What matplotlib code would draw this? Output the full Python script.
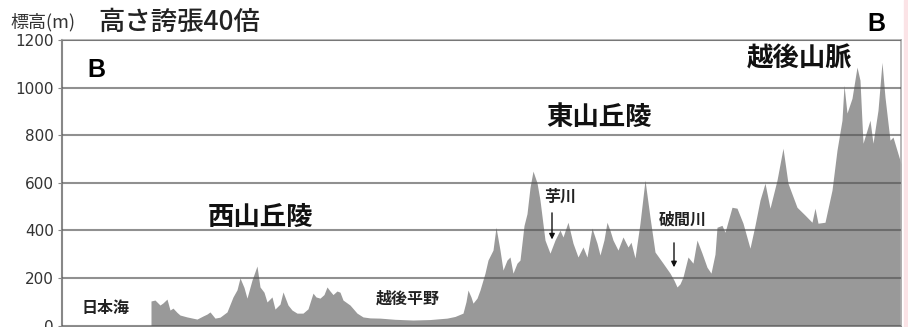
import matplotlib
matplotlib.use('Agg')
import matplotlib.pyplot as plt

# elevation profile B-B (distance km from left end, elevation m)
dist = [8.9, 8.9, 9.3, 9.8, 10.1, 10.5, 10.8, 11.1, 11.5, 11.8,
        12.5, 13.5, 14.1, 14.5, 14.8, 15.3, 15.8, 16.5, 17.1, 17.5,
        17.8, 18.2, 18.5, 19.0, 19.5, 19.8, 20.2, 20.5, 21.0, 21.3,
        21.8, 22.1, 22.6, 23.0, 23.5, 24.1, 24.6, 25.1, 25.4, 25.8,
        26.2, 26.5, 26.8, 27.1, 27.5, 27.8, 28.1, 28.8, 29.5, 30.1,
        30.8, 31.8, 33.3, 35.1, 36.8, 38.5, 39.3, 40.1, 40.4, 40.6,
        40.9, 41.1, 41.5, 41.8, 42.3, 42.6, 43.1, 43.4, 43.8, 44.1,
        44.5, 44.8, 45.1, 45.5, 45.8, 46.2, 46.5, 46.8, 47.1, 47.5,
        47.8, 48.3, 48.8, 49.3, 49.8, 50.1, 50.6, 51.1, 51.6, 52.1,
        52.5, 53.0, 53.5, 53.8, 54.2, 54.5, 54.8, 55.1, 55.6, 56.1,
        56.6, 56.9, 57.3, 57.8, 58.3, 58.8, 59.3, 60.1, 60.8, 61.2,
        61.5, 61.8, 62.1, 62.6, 63.1, 63.5, 64.0, 64.5, 64.9, 65.3,
        65.5, 66.0, 66.3, 67.0, 67.5, 68.1, 68.8, 69.3, 69.8, 70.3,
        70.8, 71.5, 72.1, 72.6, 73.5, 74.3, 75.0, 75.3, 75.6, 76.3,
        77.0, 77.5, 78.0, 78.2, 78.5, 79.0, 79.5, 79.8, 80.1, 80.5,
        80.8, 81.1, 81.6, 82.0, 82.3, 82.8, 83.1, 83.9]
elev = [0, 103, 107, 86, 95, 111, 65, 73, 55, 44,
        36, 27, 40, 48, 57, 31, 35, 57, 120, 150,
        200, 160, 115, 191, 250, 162, 140, 99, 120, 69,
        90, 141, 86, 65, 52, 52, 70, 136, 120, 115,
        130, 162, 145, 130, 145, 140, 107, 86, 52, 36,
        32, 31, 26, 23, 25, 31, 38, 52, 100, 149,
        120, 94, 115, 149, 220, 275, 317, 413, 317, 233,
        275, 288, 220, 262, 275, 420, 470, 580, 649, 600,
        527, 359, 304, 359, 401, 372, 434, 346, 288, 330,
        288, 409, 346, 296, 360, 434, 400, 359, 317, 372,
        330, 350, 284, 430, 611, 455, 309, 262, 220, 190,
        162, 175, 204, 288, 262, 359, 304, 245, 220, 300,
        413, 421, 392, 497, 493, 430, 325, 421, 527, 598,
        493, 611, 745, 598, 497, 464, 434, 493, 430, 434,
        569, 737, 863, 1010, 893, 955, 1086, 1031, 766, 821,
        863, 766, 905, 1106, 960, 779, 792, 680]

yticks = [0, 200, 400, 600, 800, 1000, 1200]

jp = ['Noto Sans CJK JP', 'DejaVu Sans']

fig = plt.figure(figsize=(9.08, 3.27), dpi=100)
ax = fig.add_axes([62 / 908, 1.5 / 327, 839 / 908, 285.5 / 327])

ax.fill_between(dist, elev, color='#999999', lw=0, zorder=1)

ax.set_xlim(0, 83.9)
ax.set_ylim(0, 1200)
ax.set_yticks(yticks)
ax.set_xticks([])
ax.yaxis.grid(True, color='#555555', alpha=0.65, lw=1.5)
ax.set_axisbelow(False)
ax.tick_params(axis='y', length=3, pad=3, color='#888888', labelsize=11, labelcolor='#333333')

ax.spines['left'].set_color('#888888')
ax.spines['left'].set_linewidth(1.5)
ax.spines['bottom'].set_color('#888888')
for s in ['top', 'right']:
    ax.spines[s].set_color('#aaaaaa')
    ax.spines[s].set_linewidth(1.2)

# region labels
big = dict(family=jp, fontsize=19, fontweight='bold', ha='center', va='center', color='#111111')
ax.text(19.8, 455, '西山丘陵', **big)
ax.text(53.7, 875, '東山丘陵', **big)
ax.text(73.7, 1119, '越後山脈', **big)

small = dict(family=jp, fontsize=11.5, fontweight='bold', ha='center', va='center', color='#222222')
ax.text(4.3, 74, '日本海', **small)
ax.text(34.6, 115, '越後平野', **small)
ax.text(49.8, 540, '芋川', **small)
ax.text(62.1, 443, '破間川', **small)

arr = dict(arrowstyle='-|>', color='#111111', lw=1.0, mutation_scale=8)
ax.annotate('', xy=(49.0, 350), xytext=(49.0, 485), arrowprops=arr)
ax.annotate('', xy=(61.2, 233), xytext=(61.2, 359), arrowprops=arr)

ax.text(3.4, 1073, 'B', family='Liberation Sans', fontsize=18, fontweight='bold',
        ha='center', va='center', color='black')
fig.text(876 / 908, 1 - 24 / 327, 'B', family='Liberation Sans', fontsize=18,
         fontweight='bold', ha='center', va='center', color='black')

fig.text(10 / 908, 1 - 22 / 327, '標高(m)', family=jp, fontsize=13,
         ha='left', va='center', color='#333333')
fig.text(98 / 908, 1 - 22 / 327, '高さ誇張40倍', family=jp, fontsize=19,
         fontweight='medium', ha='left', va='center', color='#222222')

# faint pink edge at the right border
fig.patches.append(plt.Rectangle((904 / 908, 0), 4 / 908, 1, transform=fig.transFigure,
                                 color='#fbe3e6', zorder=0))

fig.savefig('out.png', dpi=100)
